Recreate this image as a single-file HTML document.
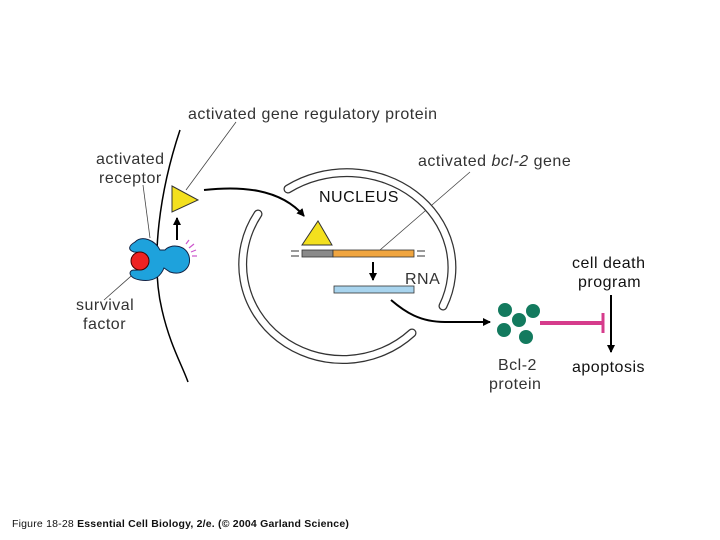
<!DOCTYPE html>
<html><head><style>
body{margin:0;background:#fff;}
svg{display:block;font-family:"Liberation Sans",sans-serif;}
</style></head><body>
<svg width="720" height="540" viewBox="0 0 720 540">
<defs>
<marker id="ah" markerWidth="8" markerHeight="8" refX="7" refY="4" orient="auto" markerUnits="userSpaceOnUse"><path d="M0,0 L8,4 L0,8 z" fill="#000"/></marker>
</defs>
<g fill="#333" font-size="16" letter-spacing="0.5">
<text x="188" y="119">activated gene regulatory protein</text>
<text x="96" y="164">activated</text>
<text x="99" y="183">receptor</text>
<text x="418" y="166">activated <tspan font-style="italic">bcl-2</tspan> gene</text>
<text x="319" y="202" fill="#111">NUCLEUS</text>
<text x="405" y="284">RNA</text>
<text x="76" y="310">survival</text>
<text x="83" y="329">factor</text>
<text x="572" y="268" fill="#111">cell death</text>
<text x="578" y="287" fill="#111">program</text>
<text x="572" y="372" fill="#111">apoptosis</text>
<text x="498" y="370">Bcl-2</text>
<text x="489" y="389">protein</text>
</g>
<text x="12" y="527" font-size="10.5" fill="#111" letter-spacing="0.2">Figure 18-28  <tspan font-weight="bold">Essential Cell Biology, 2/e. (© 2004 Garland Science)</tspan></text>
<!-- leader lines -->
<g stroke="#444" stroke-width="0.8" fill="none">
<line x1="236" y1="122" x2="186" y2="190"/>
<line x1="143" y1="185" x2="150" y2="238"/>
<line x1="138" y1="270" x2="104" y2="300"/>
<line x1="470" y1="172" x2="380" y2="250"/>
</g>
<!-- membrane -->
<path d="M180,130 C160,190 150,260 162,310 C170,345 182,365 188,382" stroke="#000" stroke-width="1.5" fill="none"/>
<!-- nuclear envelope -->
<g fill="none" stroke-linecap="round">
<path d="M288,189 A105,95 0 0 1 443,306" stroke="#333" stroke-width="9"/>
<path d="M288,189 A105,95 0 0 1 443,306" stroke="#fff" stroke-width="6.5"/>
<path d="M258,214 A100,95 0 0 0 412,333" stroke="#333" stroke-width="9"/>
<path d="M258,214 A100,95 0 0 0 412,333" stroke="#fff" stroke-width="6.5"/>
</g>
<!-- receptor -->
<path d="M135,242 C142,235 155,240 160,250 L165,250 C170,244 185,244 189,256 C192,268 182,276 170,272 L164,268 C160,278 152,282 140,280 C128,278 128,270 134,270 C148,272 152,252 134,252 C128,250 128,246 135,242 z" fill="#1ea2dc" stroke="#124" stroke-width="1"/>
<circle cx="140" cy="261" r="9" fill="#e22" stroke="#400" stroke-width="1"/>
<g stroke="#c5c" stroke-width="1.2">
<line x1="186" y1="244" x2="189" y2="240"/><line x1="189" y1="248" x2="194" y2="244"/>
<line x1="191" y1="252" x2="196" y2="250"/><line x1="192" y1="256" x2="197" y2="256"/>
</g>
<line x1="177" y1="240" x2="177" y2="218" stroke="#000" stroke-width="2" marker-end="url(#ah)"/>
<!-- cytoplasm triangle -->
<polygon points="172,186 198,200 172,212" fill="#f3e01e" stroke="#333" stroke-width="1"/>
<path d="M204,190 C240,186 280,188 304,216" stroke="#000" stroke-width="2" fill="none" marker-end="url(#ah)"/>
<!-- gene -->
<polygon points="302,245 318,221 332,245" fill="#f3e01e" stroke="#333" stroke-width="1"/>
<rect x="302" y="250" width="31" height="7" fill="#8a8a8a" stroke="#333" stroke-width="0.8"/>
<rect x="333" y="250" width="81" height="7" fill="#f0a540" stroke="#333" stroke-width="0.8"/>
<g stroke="#333" stroke-width="1"><line x1="291" y1="251" x2="299" y2="251"/><line x1="291" y1="256" x2="299" y2="256"/><line x1="417" y1="251" x2="425" y2="251"/><line x1="417" y1="256" x2="425" y2="256"/></g>
<line x1="373" y1="262" x2="373" y2="280" stroke="#000" stroke-width="2" marker-end="url(#ah)"/>
<rect x="334" y="286" width="80" height="7" fill="#a8d4ee" stroke="#333" stroke-width="0.8"/>
<path d="M391,300 C405,312 420,322 445,322 L490,322" stroke="#000" stroke-width="2" fill="none" marker-end="url(#ah)"/>
<!-- Bcl-2 -->
<g fill="#137a5e">
<circle cx="505" cy="310" r="7"/><circle cx="533" cy="311" r="7"/><circle cx="519" cy="320" r="7"/>
<circle cx="504" cy="330" r="7"/><circle cx="526" cy="337" r="7"/>
</g>
<line x1="540" y1="323" x2="603" y2="323" stroke="#d63c8c" stroke-width="4"/>
<line x1="603" y1="313" x2="603" y2="333" stroke="#d63c8c" stroke-width="3"/>
<line x1="611" y1="295" x2="611" y2="352" stroke="#000" stroke-width="2" marker-end="url(#ah)"/>
</svg>
</body></html>
